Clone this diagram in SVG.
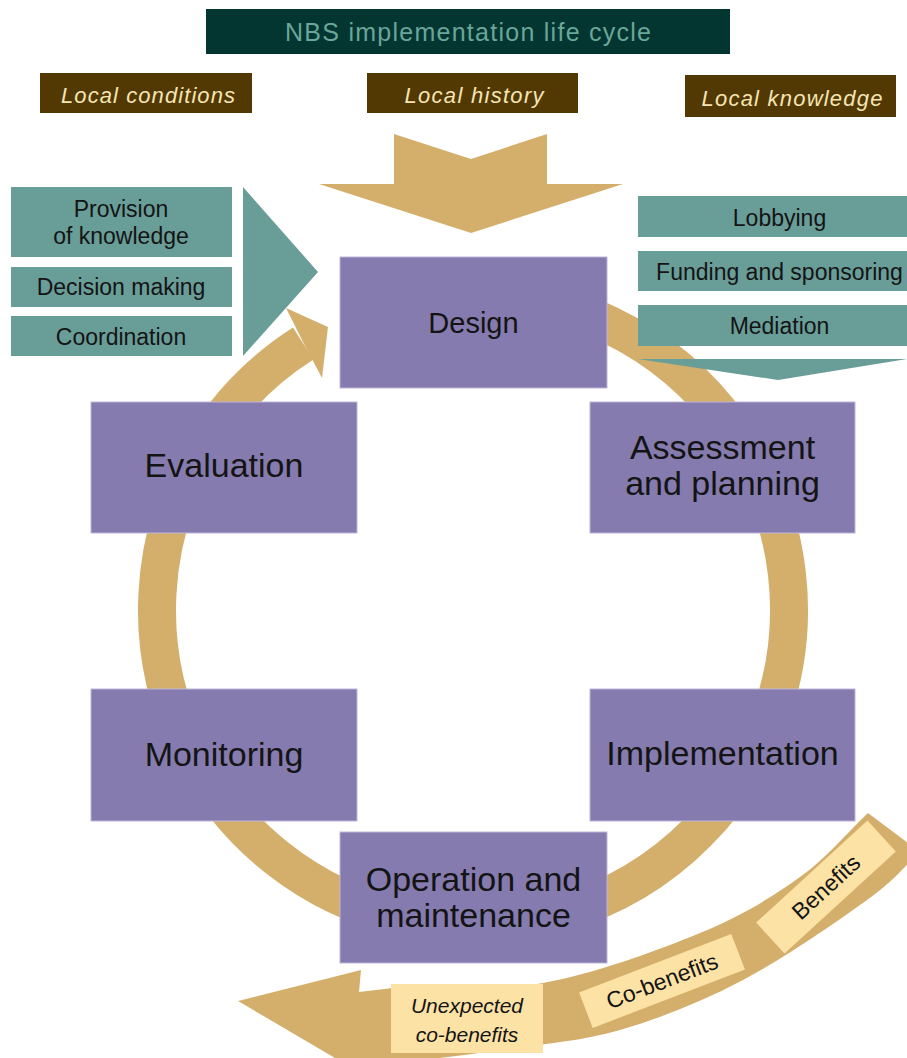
<svg xmlns="http://www.w3.org/2000/svg" width="907" height="1058" viewBox="0 0 907 1058">
  <style>
    text { font-family: "Liberation Sans", Arial, sans-serif; fill: #141414; text-anchor: middle; }
    .title { fill: #6aa699; font-size: 25px; }
    .local { fill: #f5e5b2; font-size: 22px; font-style: italic; }
    .teal-lbl { font-size: 23px; }
    .stage { font-size: 34px; }
    .band-lbl { font-size: 23px; }
    .gold { fill: #d4af6b; }
    .teal { fill: #699d98; }
    .purple { fill: #857bae; stroke: #bdb6d8; stroke-width: 1; }
    .brown { fill: #523904; }
    .cream { fill: #fde2a6; }
  </style>

  <!-- heading -->
  <g id="title">
    <rect x="206" y="9" width="524" height="45" fill="#033631"/>
    <text class="title" x="468" y="41" textLength="366">NBS implementation life cycle</text>
  </g>

  <!-- local context labels -->
  <g id="local-conditions">
    <rect class="brown" x="40" y="73" width="212" height="40"/>
    <text class="local" x="148" y="103" textLength="174">Local conditions</text>
  </g>
  <g id="local-history">
    <rect class="brown" x="367" y="73" width="211" height="40"/>
    <text class="local" x="474" y="103" textLength="139">Local history</text>
  </g>
  <g id="local-knowledge">
    <rect class="brown" x="685" y="75" width="211" height="42"/>
    <text class="local" x="792" y="106" textLength="181">Local knowledge</text>
  </g>

  <!-- context flowing into design -->
  <g id="context-arrow">
    <polygon class="gold" points="394,134 471,159 547,134 547,184 623,184 471,233 319,184 394,184"/>
  </g>

  <!-- governance inputs (left) -->
  <g id="governance">
    <rect class="teal" x="11" y="187" width="221" height="70"/>
    <text class="teal-lbl" x="121" y="217">Provision</text>
    <text class="teal-lbl" x="121" y="244">of knowledge</text>
    <rect class="teal" x="11" y="267" width="221" height="40"/>
    <text class="teal-lbl" x="121" y="295">Decision making</text>
    <rect class="teal" x="11" y="316" width="221" height="40"/>
    <text class="teal-lbl" x="121" y="345">Coordination</text>
    <polygon class="teal" points="243,187 318,272 243,356"/>
  </g>

  <!-- life cycle ring -->
  <g id="connectors">
    <path d="M 473,294 A 316,316 0 1,1 303.2,343.5" fill="none" stroke="#d4af6b" stroke-width="38"/>
    <polygon class="gold" points="286,308 328,327 322,378 304,344"/>
    <!-- outcome band -->
    <path class="gold" d="M 868,813
      C 845.3,834.3 828,857 800,877
      C 772,897 742.8,915.3 700,933
      C 657.2,950.7 594.2,973.8 543,983
      C 491.8,992.2 443,986.3 393,988
      L 359,992 L 361,970 L 238,1001 L 352,1068 L 375,1066
      C 416.7,1060.7 459.2,1056 500,1050
      C 540.8,1044 579.5,1041.7 620,1030
      C 660.5,1018.3 701.8,1001.7 743,980
      C 784.2,958.3 837.5,921.3 867,900
      C 896.5,878.7 902.3,868 920,852 Z"/>
  </g>

  <!-- support inputs (right) -->
  <g id="support">
    <rect class="teal" x="638" y="196" width="269" height="41"/>
    <text class="teal-lbl" x="779.5" y="226">Lobbying</text>
    <rect class="teal" x="638" y="251" width="269" height="40"/>
    <text class="teal-lbl" x="779.5" y="280">Funding and sponsoring</text>
    <rect class="teal" x="638" y="305" width="269" height="41"/>
    <text class="teal-lbl" x="779.5" y="334">Mediation</text>
    <polygon class="teal" points="638,359 907,359 778,380"/>
  </g>

  <!-- stages -->
  <g id="design">
    <rect class="purple" x="340" y="257" width="267" height="131"/>
    <text x="473.5" y="333" font-size="29">Design</text>
  </g>
  <g id="assessment">
    <rect class="purple" x="590" y="402" width="265" height="131"/>
    <text class="stage" x="722.5" y="459">Assessment</text>
    <text class="stage" x="722.5" y="495">and planning</text>
  </g>
  <g id="implementation">
    <rect class="purple" x="590" y="689" width="265" height="132"/>
    <text class="stage" x="722.5" y="765">Implementation</text>
  </g>
  <g id="operation">
    <rect class="purple" x="340" y="832" width="267" height="131"/>
    <text class="stage" x="473.5" y="891">Operation and</text>
    <text class="stage" x="473.5" y="927">maintenance</text>
  </g>
  <g id="monitoring">
    <rect class="purple" x="91" y="689" width="266" height="132"/>
    <text class="stage" x="224" y="766">Monitoring</text>
  </g>
  <g id="evaluation">
    <rect class="purple" x="91" y="402" width="266" height="131"/>
    <text class="stage" x="224" y="477">Evaluation</text>
  </g>

  <!-- outcome labels on the band -->
  <g id="benefits" transform="translate(826,887) rotate(-42.5)">
    <rect class="cream" x="-75.5" y="-21" width="151" height="42"/>
    <text class="band-lbl" x="0" y="8">Benefits</text>
  </g>
  <g id="co-benefits" transform="translate(662,981) rotate(-21)">
    <rect class="cream" x="-81.5" y="-19" width="163" height="38"/>
    <text class="band-lbl" x="0" y="8">Co-benefits</text>
  </g>
  <g id="unexpected">
    <rect class="cream" x="391" y="984" width="152" height="69"/>
    <text x="467" y="1013" font-size="21" font-style="italic">Unexpected</text>
    <text x="467" y="1042" font-size="21" font-style="italic">co-benefits</text>
  </g>
</svg>
